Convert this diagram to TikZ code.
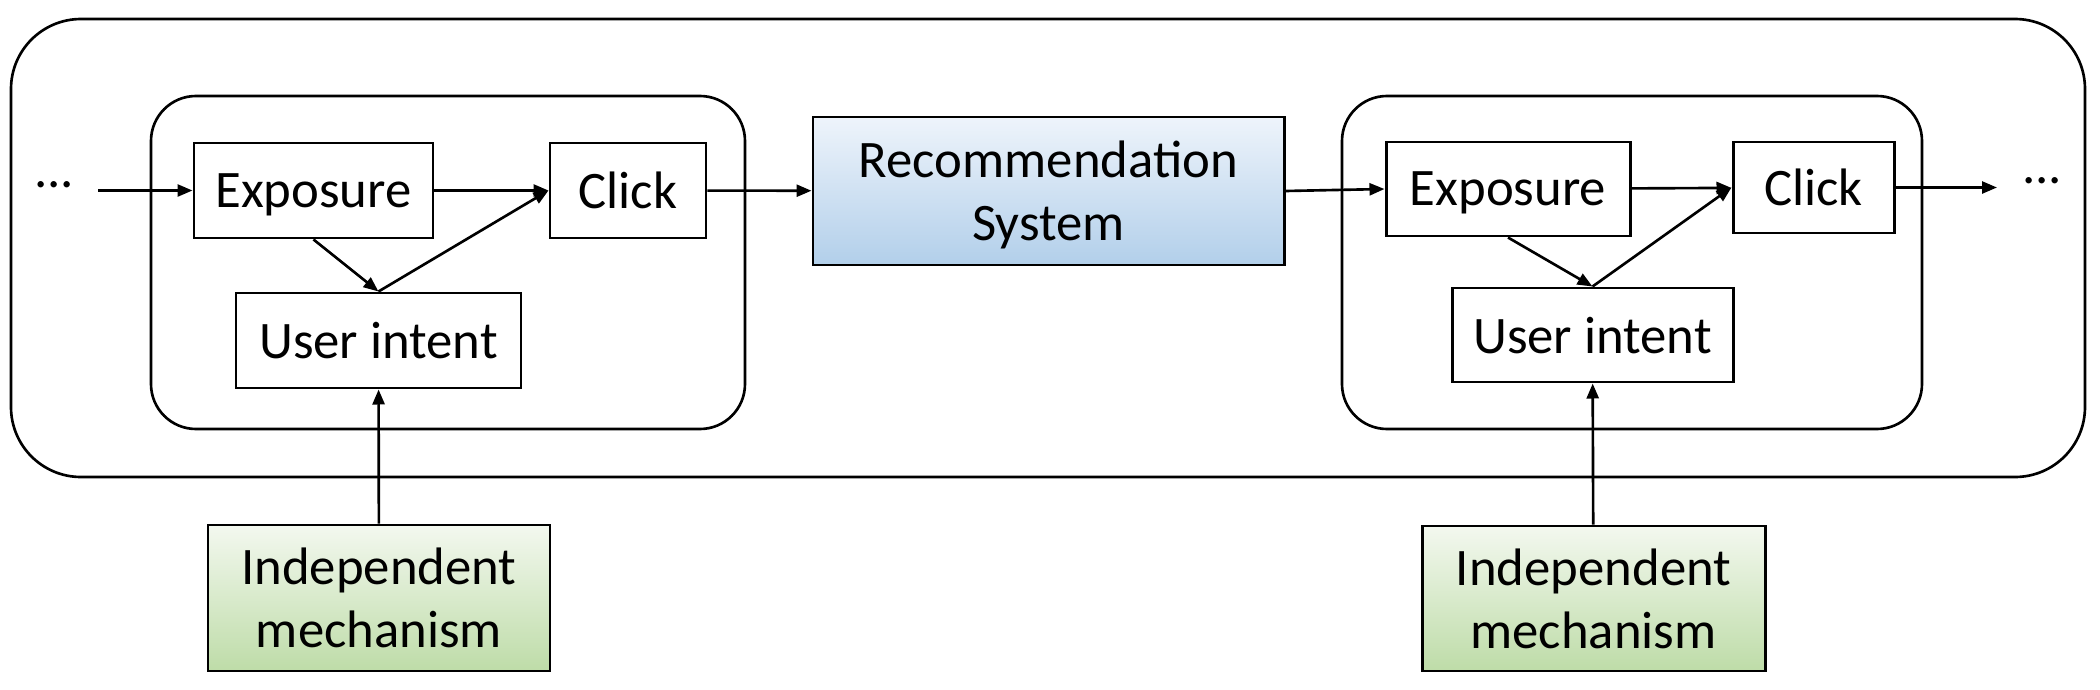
\documentclass[tikz,border=0pt]{standalone}
\usepackage{fontspec}
\setmainfont{Carlito}
\usepackage{xcolor}
\usepackage{tikz}
\usetikzlibrary{arrows.meta}
\definecolor{RSBlueTop}{HTML}{EEF4FB}
\definecolor{RSBlueBot}{HTML}{B2CFEA}
\definecolor{IMGreenTop}{HTML}{F3F8EF}
\definecolor{IMGreenBot}{HTML}{BEDCA8}

\begin{document}
\begin{tikzpicture}[
  font=\fontsize{15}{18}\selectfont,
  box/.style={draw, line width=0.85pt, inner sep=0pt, align=center, text depth=0pt},
  recbox/.style={box, top color=RSBlueTop, bottom color=RSBlueBot},
  mechbox/.style={box, top color=IMGreenTop, bottom color=IMGreenBot},
  frame/.style={draw, line width=0.75pt},
  link/.style={line width=0.75pt, -{Triangle[length=1.5mm, width=1.2mm]}}
]
\useasboundingbox (0,0) rectangle (21,6.89);

% outer loop and the two rounds
\draw[frame, rounded corners=0.7cm] (0.11,6.70) rectangle (20.85,2.12);
\draw[frame, rounded corners=0.45cm] (1.51,5.93) rectangle (7.45,2.60);
\draw[frame, rounded corners=0.45cm] (13.42,5.93) rectangle (19.22,2.60);

% round 1
\node[box, minimum width=2.39cm, minimum height=0.95cm] (expA) at (3.135,4.985) {Exposure};
\node[box, minimum width=1.56cm, minimum height=0.95cm] (clickA) at (6.28,4.985) {Click};
\node[box, minimum width=2.85cm, minimum height=0.95cm] (intentA) at (3.785,3.485) {User intent};
\node[mechbox, minimum width=3.42cm, minimum height=1.46cm] (mechA) at (3.79,0.91) {Independent\\mechanism};

% recommender
\node[recbox, minimum width=4.71cm, minimum height=1.48cm] (rec) at (10.485,4.98) {Recommendation\\System};

% round 2
\node[box, minimum width=2.44cm, minimum height=0.94cm] (expB) at (15.08,5.0) {Exposure};
\node[box, minimum width=1.61cm, minimum height=0.91cm] (clickB) at (18.135,5.015) {Click};
\node[box, minimum width=2.81cm, minimum height=0.94cm] (intentB) at (15.925,3.54) {User intent};
\node[mechbox, minimum width=3.43cm, minimum height=1.45cm] (mechB) at (15.935,0.905) {Independent\\mechanism};

% the dots
\node (dotsA) at (0.54,5.04) {...};
\node (dotsB) at (20.42,5.08) {...};
\coordinate (inA) at (0.98,4.985);
\coordinate (outB) at (19.97,5.015);

\draw[link] (inA) -- (expA);
\draw[link] (expA) -- (clickA);
\draw[link] (expA.south) -- (intentA.north);
\draw[link] (intentA.north) -- (clickA.west);
\draw[link] (mechA) -- (intentA);
\draw[link] (clickA) -- (rec);
\draw[link] (rec.east) -- (expB.west);
\draw[link] (expB) -- (clickB);
\draw[link] (expB.south) -- (intentB.north);
\draw[link] (intentB.north) -- (clickB.west);
\draw[link] (mechB) -- (intentB);
\draw[link] (clickB) -- (outB);
\end{tikzpicture}
\end{document}
